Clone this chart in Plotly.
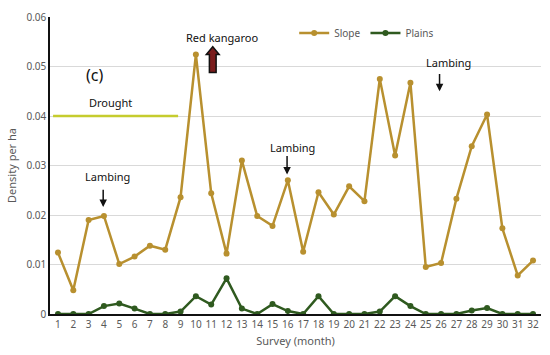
import plotly.graph_objects as go

surveys = list(range(1, 33))
slope = [0.0124, 0.0048, 0.0190, 0.0198, 0.0101, 0.0116, 0.0138, 0.0130, 0.0236, 0.0524,
         0.0244, 0.0122, 0.0310, 0.0198, 0.0178, 0.0270, 0.0126, 0.0246, 0.0201, 0.0258,
         0.0228, 0.0475, 0.0320, 0.0467, 0.0095, 0.0103, 0.0233, 0.0339, 0.0403, 0.0173,
         0.0078, 0.0108]
plains = [0, 0, 0, 0.0016, 0.0021, 0.0011, 0, 0, 0.0005, 0.0036,
          0.0019, 0.0072, 0.0011, 0, 0.0020, 0.0006, 0, 0.0036, 0, 0,
          0, 0.0005, 0.0036, 0.0016, 0, 0, 0, 0.0007, 0.0012, 0,
          0, 0]
y_ticks = [0, 0.01, 0.02, 0.03, 0.04, 0.05, 0.06]
y_tick_labels = ["0", "0.01", "0.02", "0.03", "0.04", "0.05", "0.06"]

slope_color = "#b8902f"
plains_color = "#2f5a1f"
font = "Noto Sans"

fig = go.Figure()
fig.add_trace(go.Scatter(x=surveys, y=slope, name="Slope", mode="lines+markers",
                         line=dict(color=slope_color, width=2.5),
                         marker=dict(color=slope_color, size=6)))
fig.add_trace(go.Scatter(x=surveys, y=plains, name="Plains", mode="lines+markers",
                         line=dict(color=plains_color, width=2.5),
                         marker=dict(color=plains_color, size=6)))

# Drought line
fig.add_shape(type="line", x0=0.68, x1=8.84, y0=0.04, y1=0.04, xref="x", yref="y",
              line=dict(color="#c5cc2e", width=2.5))

# Red kangaroo block arrow (pointing up)
ax_c, y_base, y_neck, y_tip = 11.1, 0.0488, 0.0524, 0.0540
sw, hw = 0.22, 0.42
path = (f"M {ax_c - sw},{y_base} L {ax_c - sw},{y_neck} L {ax_c - hw},{y_neck} "
        f"L {ax_c},{y_tip} L {ax_c + hw},{y_neck} L {ax_c + sw},{y_neck} "
        f"L {ax_c + sw},{y_base} Z")
fig.add_shape(type="path", path=path, xref="x", yref="y",
              fillcolor="#7a1c1c", line=dict(color="#111", width=1.5))

annots = []
annots.append(dict(x=3.4, y=0.0482, text="(c)", showarrow=False, font=dict(size=16, color="#111")))
annots.append(dict(x=4.4, y=0.0428, text="Drought", showarrow=False, font=dict(size=11, color="#111")))
# Lambing arrows
for xc, ytip, ytail in [(3.95, 0.0216, 0.0254), (15.95, 0.0282, 0.0322), (25.9, 0.0450, 0.0488)]:
    annots.append(dict(x=xc, y=ytip, ax=xc, ay=ytail, axref="x", ayref="y",
                       text="", showarrow=True, arrowhead=2, arrowsize=1, arrowwidth=1.5,
                       arrowcolor="#111"))
for xc, yt in [(4.2, 0.0278), (16.3, 0.0336), (26.46, 0.0508)]:
    annots.append(dict(x=xc, y=yt, text="Lambing", showarrow=False,
                       font=dict(size=11, color="#111")))
annots.append(dict(x=11.7, y=0.0558, text="Red kangaroo", showarrow=False,
                   font=dict(size=11, color="#111")))

fig.update_layout(
    width=550, height=355,
    margin=dict(l=50, r=9, t=14, b=41),
    paper_bgcolor="white", plot_bgcolor="white",
    font=dict(family=font, size=10, color="#595959"),
    showlegend=True,
    legend=dict(orientation="h", x=0.645, y=0.995, xanchor="center", yanchor="top",
                font=dict(size=10, color="#595959"), bgcolor="rgba(0,0,0,0)",
                itemwidth=30),
    annotations=annots,
    xaxis=dict(range=[0.48, 32.52], tickmode="array", tickvals=surveys,
               ticktext=[str(s) for s in surveys], showgrid=False, zeroline=False,
               showline=True, linecolor="#111", linewidth=1.5, ticks="",
               title=dict(text="Survey (month)", font=dict(size=11, color="#595959"), standoff=8),
               tickfont=dict(size=10, color="#595959")),
    yaxis=dict(range=[0, 0.06], tickmode="array", tickvals=y_ticks, ticktext=y_tick_labels,
               showgrid=True, gridcolor="#d9d9d9", gridwidth=1, zeroline=False,
               showline=True, linecolor="#111", linewidth=1.5, ticks="",
               title=dict(text="Density per ha", font=dict(size=11, color="#595959"), standoff=8),
               tickfont=dict(size=10, color="#595959")),
)

fig.write_html("out.html", config={"displayModeBar": False},
               post_script="document.body.style.margin='0';")
